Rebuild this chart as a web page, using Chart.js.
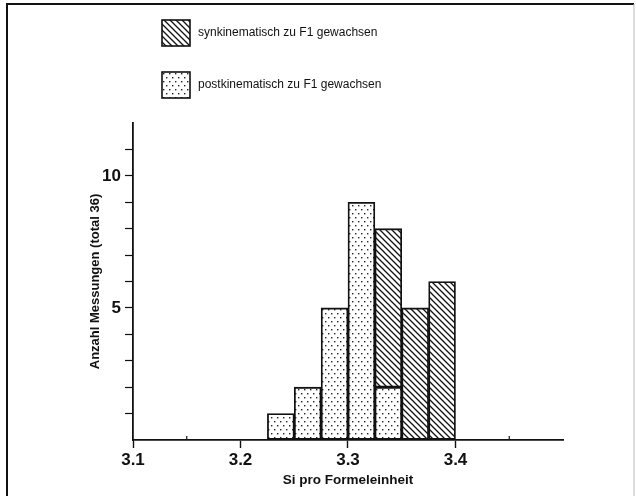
<!DOCTYPE html>
<html>
<head>
<meta charset="utf-8">
<script src="https://cdn.jsdelivr.net/npm/chart.js@4.4.1/dist/chart.umd.min.js"></script>
<style>
  body { margin: 0; background: #fff; }
  #chart { display: block; }
</style>
</head>
<body>
<canvas id="chart" width="636" height="497"></canvas>
<script>
// Si per formula unit, histogram bins of 0.025 (bin centres)
var binCenters = [3.2375, 3.2625, 3.2875, 3.3125, 3.3375, 3.3625, 3.3875];
var postCounts = [1, 2, 5, 9, 2, 0, 0];
var synCounts  = [0, 0, 0, 0, 6, 5, 6];
var xTickLabels = ['3.1', '3.2', '3.3', '3.4'];
var yTickLabels = ['5', '10'];

var seriesNames = ['synkinematisch zu F1 gewachsen', 'postkinematisch zu F1 gewachsen'];
var FONT = '"Liberation Sans", Arial, Helvetica, sans-serif';

function makeHatch() {
    var c = document.createElement('canvas');
    c.width = 6; c.height = 6;
    var g = c.getContext('2d');
    g.fillStyle = '#fff';
    g.fillRect(0, 0, 6, 6);
    g.strokeStyle = '#111';
    g.lineWidth = 1.3;
    g.beginPath();
    g.moveTo(-1, -1); g.lineTo(7, 7);
    g.moveTo(-1, 5); g.lineTo(1, 7);
    g.moveTo(5, -1); g.lineTo(7, 1);
    g.stroke();
    return g.createPattern(c, 'repeat');
}

function makeDots() {
    var c = document.createElement('canvas');
    c.width = 6; c.height = 8;
    var g = c.getContext('2d');
    g.fillStyle = '#fff';
    g.fillRect(0, 0, 6, 8);
    g.fillStyle = '#222';
    g.fillRect(1, 1, 1.4, 1.4);
    g.fillRect(4, 5, 1.4, 1.4);
    return g.createPattern(c, 'repeat');
}

var hatch = makeHatch();
var dots = makeDots();

function toPoints(counts) {
    var pts = [];
    for (var i = 0; i < counts.length; i++) {
        if (counts[i] > 0) pts.push({ x: binCenters[i], y: counts[i] });
    }
    return pts;
}

function isMajor(v) {
    return Math.abs(v * 10 - Math.round(v * 10)) < 1e-6;
}

var framePlugin = {
    id: 'frame',
    afterDraw: function (chart) {
        var ctx = chart.ctx;
        ctx.save();
        ctx.strokeStyle = '#111';
        ctx.lineWidth = 2;
        ctx.beginPath();
        ctx.moveTo(7, 496); ctx.lineTo(7, 4); ctx.lineTo(634, 4);
        ctx.stroke();
        ctx.strokeStyle = '#bbb';
        ctx.lineWidth = 1;
        ctx.beginPath();
        ctx.moveTo(634, 4); ctx.lineTo(634, 496);
        ctx.stroke();

        // minor ticks on x axis (upwards)
        var xs = chart.scales.x;
        var yb = chart.chartArea.bottom;
        ctx.strokeStyle = '#111';
        ctx.lineWidth = 1.2;
        xs.ticks.forEach(function (t) {
            if (!isMajor(t.value)) {
                var px = xs.getPixelForValue(t.value);
                ctx.beginPath();
                ctx.moveTo(px, yb); ctx.lineTo(px, yb - 4);
                ctx.stroke();
            }
        });

        // legend
        var fills = [hatch, dots];
        var boxTop = [20, 72];
        ctx.font = '12px ' + FONT;
        ctx.textBaseline = 'middle';
        for (var i = 0; i < seriesNames.length; i++) {
            ctx.fillStyle = fills[i];
            ctx.fillRect(162, boxTop[i], 28, 26);
            ctx.strokeStyle = '#111';
            ctx.lineWidth = 1.6;
            ctx.strokeRect(162, boxTop[i], 28, 26);
            ctx.fillStyle = '#111';
            ctx.fillText(seriesNames[i], 198, boxTop[i] + 13);
        }
        ctx.restore();
    }
};

var ctx = document.getElementById('chart');
new Chart(ctx, {
    type: 'bar',
    data: {
        datasets: [
            {
                label: seriesNames[1],
                data: toPoints(postCounts),
                backgroundColor: dots,
                borderColor: '#111',
                borderWidth: 1.8,
                borderSkipped: false,
                barPercentage: 1,
                categoryPercentage: 1
            },
            {
                label: seriesNames[0],
                data: toPoints(synCounts),
                backgroundColor: hatch,
                borderColor: '#111',
                borderWidth: 1.8,
                borderSkipped: false,
                barPercentage: 1,
                categoryPercentage: 1
            }
        ]
    },
    options: {
        responsive: false,
        animation: false,
        layout: { padding: { left: 0, right: 73, top: 123, bottom: 0 } },
        plugins: {
            legend: { display: false },
            tooltip: { enabled: false }
        },
        scales: {
            x: {
                type: 'linear',
                stacked: true,
                min: 3.1,
                max: 3.5,
                offset: false,
                afterFit: function (s) { s.height = 57; },
                ticks: {
                    stepSize: 0.05,
                    autoSkip: false,
                    maxRotation: 0,
                    padding: 2,
                    color: '#111',
                    font: { family: FONT, size: 17, weight: 'bold' },
                    callback: function (v) {
                        var s = Number(v).toFixed(1);
                        return (isMajor(Number(v)) && xTickLabels.indexOf(s) >= 0) ? s : '';
                    }
                },
                grid: {
                    offset: false,
                    drawOnChartArea: false,
                    drawTicks: true,
                    tickLength: 8,
                    tickWidth: 1.4,
                    tickColor: function (c) {
                        return (c.tick && isMajor(c.tick.value) && c.tick.value < 3.45) ? '#111' : 'rgba(0,0,0,0)';
                    }
                },
                border: { display: true, color: '#111', width: 1.8 },
                title: {
                    display: true,
                    text: 'Si pro Formeleinheit',
                    color: '#111',
                    font: { family: FONT, size: 13.5, weight: 'bold' },
                    padding: { top: 0, bottom: 9 }
                }
            },
            y: {
                stacked: true,
                min: 0,
                max: 12,
                afterFit: function (s) { s.width = 133; },
                ticks: {
                    stepSize: 1,
                    autoSkip: false,
                    padding: 4,
                    color: '#111',
                    font: { family: FONT, size: 17, weight: 'bold' },
                    callback: function (v) {
                        var s = String(v);
                        return yTickLabels.indexOf(s) >= 0 ? s : '';
                    }
                },
                grid: {
                    offset: false,
                    drawOnChartArea: false,
                    drawTicks: true,
                    tickLength: 8,
                    tickWidth: 1.2,
                    tickColor: function (c) {
                        return (c.tick && (c.tick.value === 0 || c.tick.value === 12)) ? 'rgba(0,0,0,0)' : '#111';
                    }
                },
                border: { display: true, color: '#111', width: 1.8 },
                title: {
                    display: true,
                    text: 'Anzahl Messungen (total 36)',
                    color: '#111',
                    font: { family: FONT, size: 13, weight: 'bold' },
                    padding: { top: 88, bottom: 0 }
                }
            }
        }
    },
    plugins: [framePlugin]
});
</script>
</body>
</html>
